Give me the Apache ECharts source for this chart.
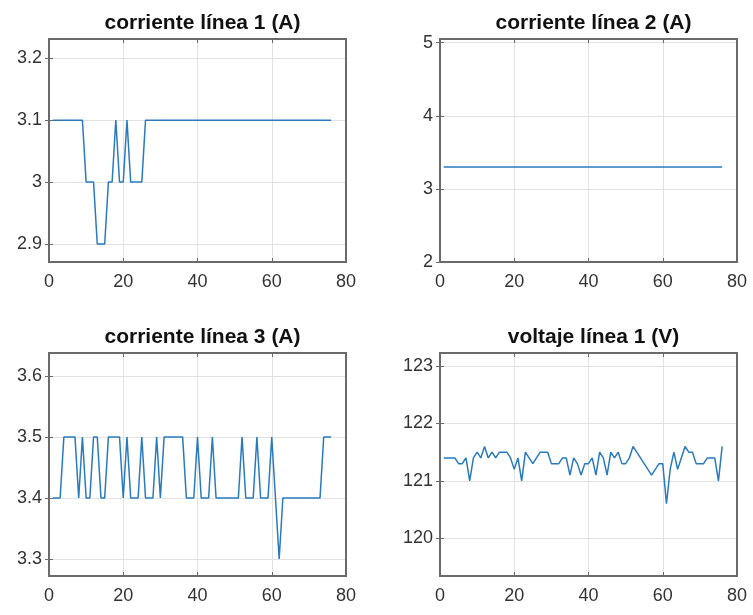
<!DOCTYPE html>
<html>
<head>
<meta charset="utf-8">
<script src="https://cdn.jsdelivr.net/npm/echarts@6/dist/echarts.min.js"></script>
<style>
html,body{margin:0;padding:0;background:#ffffff;}
#chart{width:753px;height:615px;}
</style>
</head>
<body>
<div id="chart"></div>
<script>
// ---- data ----
const titles = ['corriente línea 1 (A)', 'corriente línea 2 (A)', 'corriente línea 3 (A)', 'voltaje línea 1 (V)'];

const samples = [1,2,3,4,5,6,7,8,9,10,11,12,13,14,15,16,17,18,19,20,
  21,22,23,24,25,26,27,28,29,30,31,32,33,34,35,36,37,38,39,40,
  41,42,43,44,45,46,47,48,49,50,51,52,53,54,55,56,57,58,59,60,
  61,62,63,64,65,66,67,68,69,70,71,72,73,74,75,76];

const corriente1 = [3.1,3.1,3.1,3.1,3.1,3.1,3.1,3.1,3.1,3.0,
  3.0,3.0,2.9,2.9,2.9,3.0,3.0,3.1,3.0,3.0,
  3.1,3.0,3.0,3.0,3.0,3.1,3.1,3.1,3.1,3.1,
  3.1,3.1,3.1,3.1,3.1,3.1,3.1,3.1,3.1,3.1,
  3.1,3.1,3.1,3.1,3.1,3.1,3.1,3.1,3.1,3.1,
  3.1,3.1,3.1,3.1,3.1,3.1,3.1,3.1,3.1,3.1,
  3.1,3.1,3.1,3.1,3.1,3.1,3.1,3.1,3.1,3.1,
  3.1,3.1,3.1,3.1,3.1,3.1];

const corriente2 = [3.3,3.3,3.3,3.3,3.3,3.3,3.3,3.3,3.3,3.3,
  3.3,3.3,3.3,3.3,3.3,3.3,3.3,3.3,3.3,3.3,
  3.3,3.3,3.3,3.3,3.3,3.3,3.3,3.3,3.3,3.3,
  3.3,3.3,3.3,3.3,3.3,3.3,3.3,3.3,3.3,3.3,
  3.3,3.3,3.3,3.3,3.3,3.3,3.3,3.3,3.3,3.3,
  3.3,3.3,3.3,3.3,3.3,3.3,3.3,3.3,3.3,3.3,
  3.3,3.3,3.3,3.3,3.3,3.3,3.3,3.3,3.3,3.3,
  3.3,3.3,3.3,3.3,3.3,3.3];

const corriente3 = [3.4,3.4,3.4,3.5,3.5,3.5,3.5,3.4,3.5,3.4,
  3.4,3.5,3.5,3.4,3.4,3.5,3.5,3.5,3.5,3.4,
  3.5,3.4,3.4,3.4,3.5,3.4,3.4,3.4,3.5,3.4,
  3.5,3.5,3.5,3.5,3.5,3.5,3.4,3.4,3.4,3.5,
  3.4,3.4,3.4,3.5,3.4,3.4,3.4,3.4,3.4,3.4,
  3.4,3.5,3.4,3.4,3.4,3.5,3.4,3.4,3.4,3.5,
  3.4,3.3,3.4,3.4,3.4,3.4,3.4,3.4,3.4,3.4,
  3.4,3.4,3.4,3.5,3.5,3.5];

const voltaje1 = [121.4,121.4,121.4,121.4,121.3,121.3,121.4,121.0,121.4,121.5,
  121.4,121.6,121.4,121.5,121.4,121.5,121.5,121.5,121.4,121.2,
  121.4,121.0,121.5,121.4,121.3,121.4,121.5,121.5,121.5,121.3,
  121.3,121.3,121.4,121.4,121.1,121.4,121.3,121.1,121.3,121.3,
  121.4,121.1,121.5,121.4,121.1,121.5,121.4,121.5,121.3,121.3,
  121.4,121.6,121.5,121.4,121.3,121.2,121.1,121.2,121.3,121.3,
  120.6,121.2,121.5,121.2,121.4,121.6,121.5,121.5,121.3,121.3,
  121.3,121.4,121.4,121.4,121.0,121.6];

const xTicks = [0, 20, 40, 60, 80];
const yTicks = [
  [2.9, 3.0, 3.1, 3.2],
  [2, 3, 4, 5],
  [3.3, 3.4, 3.5, 3.6],
  [120, 121, 122, 123]
];
const yLimits = [[2.871, 3.231], [2, 5.05], [3.272, 3.638], [119.34, 123.23]];
const seriesValues = [corriente1, corriente2, corriente3, voltaje1];

// ---- layout / style ----
const panels = [
  {left: 49, top: 39}, {left: 440, top: 39},
  {left: 49, top: 353}, {left: 440, top: 353}
];
const PW = 297, PH = 223;
const FONT = '"Liberation Sans", Arial, Helvetica, sans-serif';
const frameColor = '#6a6a6a';
const gridColor = '#e2e2e2';
const lineColor = '#2a7bbd';

const grid = [], xAxis = [], yAxis = [], series = [], title = [];
panels.forEach((p, i) => {
  grid.push({left: p.left, top: p.top, width: PW, height: PH, show: true,
    borderColor: frameColor, borderWidth: 2, backgroundColor: 'transparent', z: 3});
  title.push({text: titles[i], left: p.left + PW / 2, top: p.top - 31, textAlign: 'center',
    textStyle: {fontFamily: FONT, fontSize: 21, fontWeight: 'bold', color: '#111'}});
  // bottom x
  xAxis.push({gridIndex: i, type: 'value', min: xTicks[0], max: xTicks[xTicks.length - 1], interval: 20,
    position: 'bottom', axisLine: {show: false},
    axisTick: {inside: true, length: 4, lineStyle: {color: frameColor}},
    axisLabel: {margin: 11, color: '#333', fontSize: 18, fontFamily: FONT},
    splitLine: {show: true, lineStyle: {color: gridColor, width: 1}}});
  // top x (ticks only)
  xAxis.push({gridIndex: i, type: 'value', min: xTicks[0], max: xTicks[xTicks.length - 1], interval: 20,
    position: 'top', axisLine: {show: false},
    axisTick: {inside: true, length: 4, lineStyle: {color: frameColor}},
    axisLabel: {show: false}, splitLine: {show: false}});
  // left y
  yAxis.push({gridIndex: i, type: 'value', min: yLimits[i][0], max: yLimits[i][1], position: 'left',
    axisLine: {show: false},
    axisTick: {inside: true, length: 4, customValues: yTicks[i], lineStyle: {color: frameColor}},
    axisLabel: {customValues: yTicks[i], margin: 7, color: '#333', fontSize: 18, fontFamily: FONT},
    splitLine: {show: true, lineStyle: {color: gridColor, width: 1}}});
  // right y (ticks only)
  yAxis.push({gridIndex: i, type: 'value', min: yLimits[i][0], max: yLimits[i][1], position: 'right',
    axisLine: {show: false},
    axisTick: {inside: true, length: 4, customValues: yTicks[i], lineStyle: {color: frameColor}},
    axisLabel: {show: false}, splitLine: {show: false}});
  series.push({type: 'line', xAxisIndex: i * 2, yAxisIndex: i * 2,
    data: samples.map((s, k) => [s, seriesValues[i][k]]),
    showSymbol: false, symbol: 'none', z: 2,
    lineStyle: {color: lineColor, width: 1.5}});
});

const chart = echarts.init(document.getElementById('chart'), null, {renderer: 'canvas'});
chart.setOption({
  backgroundColor: '#ffffff',
  animation: false,
  title, grid, xAxis, yAxis, series
});
</script>
</body>
</html>
